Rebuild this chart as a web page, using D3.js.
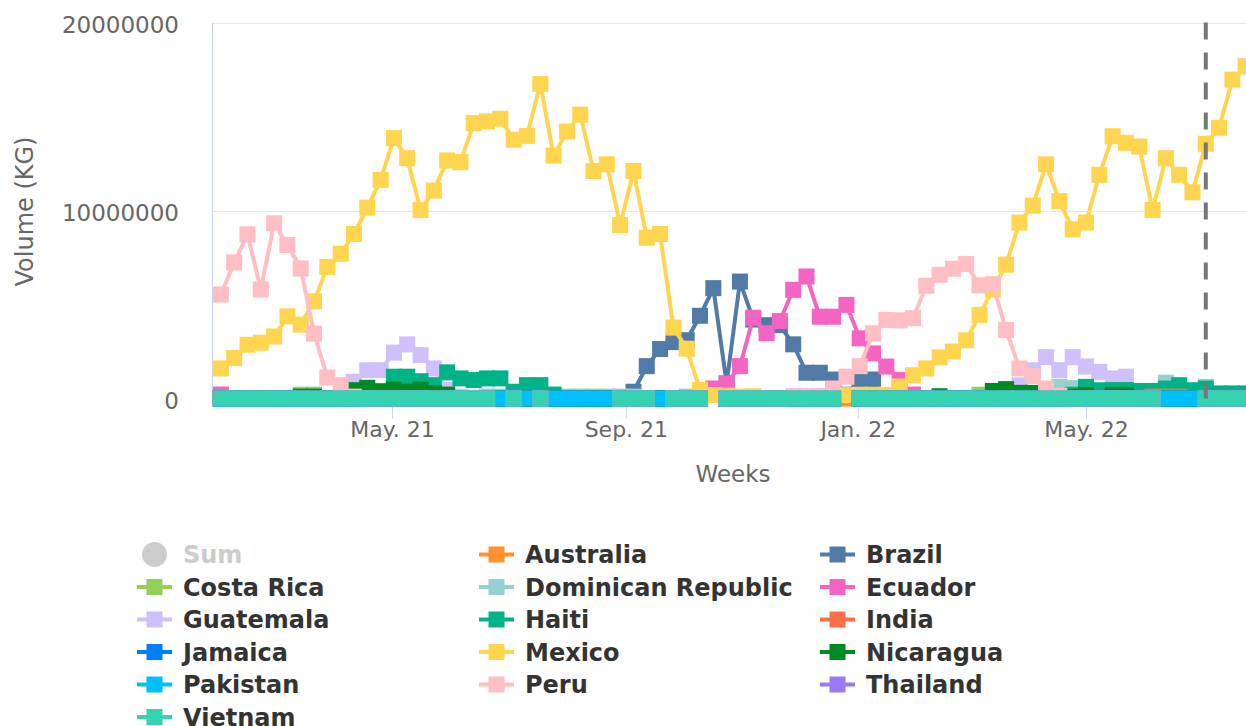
<!DOCTYPE html>
<html><head><meta charset="utf-8">
<script src="https://cdn.jsdelivr.net/npm/d3@7"></script>
<style>html,body{margin:0;padding:0;background:#fff;} svg{display:block;}</style>
</head><body>
<svg id="chart" width="1246" height="726"></svg>
<script>
const _ = null;
// weekly categories (Sundays)
const firstWeek = "2021-01-31", afterLastWeek = "2022-07-25";
const xTickDates = ["2021-05-01","2021-09-01","2022-01-01","2022-05-01"];
const xTickLabels = ["May. 21","Sep. 21","Jan. 22","May. 22"];
const yTicks = [0, 10000000, 20000000];
const currentWeekLine = "2022-07-03";
const UNIT = 1e6; // series values below are in millions of KG

const seriesNames = ["Australia","Brazil","Costa Rica","Dominican Republic","Ecuador","Guatemala","Haiti","India","Jamaica","Mexico","Nicaragua","Pakistan","Peru","Thailand","Vietnam"];
const seriesColors = ["#ff922c","#507aa8","#94ce5a","#96d0d0","#f564c3","#cfc0fc","#00b386","#ff6e4a","#0080ff","#ffd54f","#008a24","#00bfff","#ffbec3","#9a78fa","#35d2b1"];

const australia = [
0,0,0,0,0,0,0,0,0,0,
0,0,0,0,0,0,0,0,0,0,
0,0,0,0,0,0,0,0,0,0,
0,0,0,0,0,0,0,_,0,0,
0,0,0,0,0,0,0,0,0,0,
0,0,0,0,0,0,0,0,0,0,
0,0,0,0,0,0,0,0,0,0,
0,0,0,0,0,0,0,0];
const brazil = [
0,0,0,0,0,0,0,0,0,0,
0,0,0,0,0,0,0,0,0,0,
0,0,0,0,0,0,0,0,0,0,
0,0.36,1.72,2.63,3.0,3.1,4.4,5.87,0.8,6.22,
4.2,3.9,3.9,2.88,1.37,1.37,1.01,0.2,1.01,1.01,
0.1,0,0,0,0,0,0,0,0,0,
0,0,0,0,0,0,0,0,0,0,
0,0,0,0,0,0,0,0];
const costaRica = [
0,0,0,0,0,0,0.2,0.2,0,0,
0,0,0,0,0,0,0,0,0,0,
0,0,0,0,0,0,0,0,0,0,
0,0,0,0,0,0,0,_,0,0,
0,0,0,0,0,0,0,_,0,0,
0,0,0,0,0,0,0,0.2,0,0,
0,0,0,0,0,0,0,0,0,0,
0,0,0,0,0,0,0,0];
const dominicanRepublic = [
0,0,0,0,0,0,0,0,0,0,
0,0,0,0,0,0,0,0,0,0,
0.1,0.1,0,0,0,0,0.1,0.1,0.1,0.1,
0.1,0.1,0,0,0,0.1,0,_,0,0,
0,0,0,0,0,0,0,_,0,0,
0,0,0,0,0,0,0,0,0,0,
0,0,0,0.62,0.55,0,0,0,0,0,
0,0.84,0,0,0.62,0,0,0];
const ecuador = [
0.21,0,0,0,0,0,0,0,0,0,
0,0,0,0,0,0,0,0,0,0,
0,0,0,0,0,0,0,0,0,0,
0,0,0,0,0,0,0,0.53,0.8,1.72,
4.3,3.47,4.12,5.78,6.49,4.35,4.35,4.98,3.2,2.4,
1.7,0.98,0.21,0,0,0,0,0,0,0,
0,0,0,0,0,0,0,0,0,0,
0,0,0,0,0,0,0,0];
const guatemala = [
0,0,0,0,0,0,0,0,0,0,
0.89,1.51,1.51,2.44,2.88,2.31,1.6,0.44,0.1,0,
0,0,0,0,0,0,0,0,0,0,
0,0,0,0,0,0,0,_,0,0,
0,0,0,0,0,0,0,_,0,0,
0,0,0,0,0,0,0,0,0,0,
0.7,1.5,2.2,1.51,2.2,1.7,1.42,1.07,1.16,0.2,
0,0,0,0,0,0,0,0];
const haiti = [
0,0,0,0,0,0,0,0,0,0,
0.1,0.2,0.3,1.16,1.16,0.92,0.71,1.39,1.07,0.98,
1.07,1.07,0.36,0.71,0.71,0.21,0,0,0,0,
0,0,0,0,0,0,0,_,0,0,
0,0,0,0,0,0,0,_,0,0,
0,0,0,0,0,0,0,0,0,0,
0,0,0.1,0.1,0.2,0.62,0.44,0.45,0.45,0.4,
0.4,0.53,0.71,0.44,0.53,0.27,0.27,0.27];
const india = [
0,0,0,0,0,0,0,0,0,0,
0,0,0,0,0,0,0,0,0,0,
0,0,0,0,0,0,0,0,0,0,
0,0,0,0,0,0,0,_,0,0,
0,0,0,0,0,0,0,_,0,0,
0,0,0,0,0,0,0,0,0,0,
0,0,0,0,0,0,0,0,0,0,
0.1,0.1,0.1,0,0,0,0,0];
const jamaica = [
0,0,0,0,0,0,0,0,0,0,
0,0,0,0,0,0,0,0,0,0,
0,0,0,0,0,0,0,0,0,0,
0,0,0,0,0,0,0,_,0,0,
0,0,0,0,0,0,0,_,0,0,
0,0,0,0,0,0,0,0,0,0,
0,0,0,0,0,0,0,0,0,0,
0,0,0,0,0,0,0,0];
const mexico = [
1.6,2.15,2.86,2.97,3.3,4.37,3.93,5.17,7.0,7.7,
8.75,10.15,11.63,13.85,12.78,10.03,11.06,12.66,12.57,14.65,
14.74,14.88,13.76,13.97,16.73,12.92,14.2,15.1,12.1,12.46,
9.23,12.1,8.55,8.75,3.77,2.65,0.45,0.18,0.15,0.1,
0.12,0,0,0,0,0,0,0.18,0.2,0.2,
0.2,0.64,1.24,1.6,2.19,2.5,3.1,4.45,5.8,7.12,
9.36,10.26,12.46,10.5,9.0,9.36,11.9,13.95,13.6,13.4,
10.03,12.78,11.9,10.97,13.55,14.4,16.96,17.67];
const nicaragua = [
0,0,0,0,0,0,0.1,0.1,0,0,
0.44,0.57,0.39,0.48,0.36,0.48,0.27,0.21,0,0,
0,0,0,0,0,0,0,0,0,0,
0,0,0,0,0,0,0,_,0,0,
0,0,0,0,0,0,0,_,0,0,
0,0,0,0,0.12,0,0,0,0.4,0.5,
0.3,0.3,0,0,0.1,0.2,0,0.2,0.2,0,
0,0,0,0,0,0,0,0];
const pakistan = [
0,0,0,0,0,0,0,0,0,0,
0,0,0,0,0,0,0,0,0,0,
0,0,0,0,0,0,0,0,0,0,
0,0,0,0,0,0,0,_,0,0,
0,0,0,0,0,0,0,_,0,0,
0,0,0,0,0,0,0,0,0,0,
0,0,0,0,0,0,0,0,0,0,
0,0,0,0,0,0,0,0];
const peru = [
5.53,7.24,8.73,5.8,9.32,8.16,6.92,3.45,1.12,0.71,
0.1,0,0,0,0,0,0,0,0,0,
0,_,0,_,0,_,_,_,_,_,
0,0,0,_,0,0,0,_,0,0,
0,0,0,0.12,0.12,0.12,0.53,1.16,1.72,3.47,
4.18,4.16,4.27,6.0,6.58,6.9,7.15,6.02,6.08,3.64,
1.6,1.2,0.53,0.15,0,0,0,0,0,0,
0,_,_,_,0,0,0,0];
const thailand = [
0,0,0,0,0,0,0,0,0,0,
0,0,0,0,0,0,0,0,0,0,
0,_,0,_,0,_,_,_,_,_,
0,0,0,_,0,0,0,_,0,0,
0,0,0,0,0,0,0,_,0,0,
0,0,0,0,0,0,0,0,0,0,
0,0,0,0,0,0,0,0,0,0,
0,_,_,_,0,0,0,0];
const vietnam = [
0,0,0,0,0,0,0,0,0,0,
0,0,0,0,0,0,0,0,0,0,
0,_,0,_,0,_,_,_,_,_,
0,0,0,_,0,0,0,_,0,0,
0,0,0,0,0,0,0,_,0,0,
0,0,0,0,0,0,0,0,0,0,
0,0,0,0,0,0,0,0,0,0,
0,_,_,_,0,0,0,0];

const seriesValues = [australia,brazil,costaRica,dominicanRepublic,ecuador,guatemala,haiti,india,jamaica,mexico,nicaragua,pakistan,peru,thailand,vietnam];

// ---------- layout ----------
const plot = {left: 213, right: 1253, top: 22.5, bottom: 398.5};
const parse = d3.utcParse("%Y-%m-%d");
const weeks = d3.utcWeek.range(parse(firstWeek), parse(afterLastWeek));

const x = d3.scaleUtc()
  .domain([parse(xTickDates[0]), parse(xTickDates[3])])
  .range([392, 1086]);
const y = d3.scaleLinear().domain([0, 20000000]).range([plot.bottom, plot.top]);

const svg = d3.select("#chart");
svg.append("rect").attr("width",1246).attr("height",726).attr("fill","#fff");

// gridlines
svg.append("g").selectAll("line").data(yTicks).join("line")
  .attr("x1", plot.left).attr("x2", plot.right)
  .attr("y1", d => Math.round(y(d)) + 0.5).attr("y2", d => Math.round(y(d)) + 0.5)
  .attr("stroke", "#e6e6e6").attr("stroke-width", 1);

// y axis
const yAxis = svg.append("g").attr("transform", `translate(${plot.left - 0.5},0)`)
  .call(d3.axisLeft(y).tickValues(yTicks).tickFormat(d3.format("d")).tickSize(0).tickPadding(33.5));
yAxis.select(".domain").remove();
yAxis.append("line").attr("x1",0).attr("x2",0).attr("y1",plot.top).attr("y2",plot.bottom)
  .attr("stroke","#ccd6eb").attr("stroke-width",1);
yAxis.selectAll("text").attr("dy", "10px")
  .attr("font-family","DejaVu Sans").attr("font-size","23px").attr("fill","#666");

svg.append("text")
  .attr("transform", "translate(33,211.5) rotate(-90)")
  .attr("text-anchor","middle")
  .attr("font-family","DejaVu Sans").attr("font-size","24px").attr("fill","#666")
  .text("Volume (KG)");

// x axis
const tickMap = new Map(xTickDates.map((d,i)=>[+parse(d), xTickLabels[i]]));
const xAxis = svg.append("g").attr("transform", "translate(0,407)")
  .call(d3.axisBottom(x).tickValues(xTickDates.map(parse)).tickFormat(d => tickMap.get(+d)).tickSize(12).tickPadding(17.5));
xAxis.select(".domain").remove();
xAxis.selectAll(".tick line").attr("stroke","#ccd6eb");
xAxis.selectAll("text").attr("dy","0")
  .attr("font-family","DejaVu Sans").attr("font-size","22px").attr("fill","#666");

svg.append("text").attr("x", (plot.left + plot.right)/2).attr("y", 482)
  .attr("text-anchor","middle")
  .attr("font-family","DejaVu Sans").attr("font-size","23px").attr("fill","#666")
  .text("Weeks");

// series
const line = d3.line().defined(d => d.v != null).x(d => x(d.date)).y(d => y(d.v * UNIT));
const M = 16;
seriesNames.forEach((name, i) => {
  const pts = weeks.map((date, k) => ({date, v: seriesValues[i][k] === undefined ? null : seriesValues[i][k]}));
  const g = svg.append("g").attr("class", "series");
  g.append("path").datum(pts).attr("d", line)
    .attr("fill","none").attr("stroke", seriesColors[i]).attr("stroke-width", 4)
    .attr("stroke-linejoin","round").attr("stroke-linecap","round");
  g.selectAll("rect").data(pts.filter(d => d.v != null)).join("rect")
    .attr("x", d => x(d.date) - M/2).attr("y", d => y(d.v * UNIT) - M/2)
    .attr("width", M).attr("height", M).attr("fill", seriesColors[i]);
});

// current week plot line
svg.append("line")
  .attr("x1", x(parse(currentWeekLine))).attr("x2", x(parse(currentWeekLine)))
  .attr("y1", plot.top).attr("y2", plot.bottom)
  .attr("stroke","#777").attr("stroke-width",4).attr("stroke-dasharray","17,13");

// legend
const legendNames = ["Sum"].concat(seriesNames);
const legendColors = ["#cccccc"].concat(seriesColors);
const colX = [154.5, 496.5, 837.5];
const rowY0 = 554.5, rowH = 32.5;
const lg = svg.append("g").attr("class","legend");
legendNames.forEach((name, i) => {
  const cx = colX[i % 3], cy = rowY0 + Math.floor(i / 3) * rowH;
  const item = lg.append("g");
  if (name === "Sum") {
    item.append("circle").attr("cx", cx).attr("cy", cy).attr("r", 12.5).attr("fill", "#cccccc");
  } else {
    item.append("line").attr("x1", cx - 17.5).attr("x2", cx + 17.5).attr("y1", cy).attr("y2", cy)
      .attr("stroke", legendColors[i]).attr("stroke-width", 4);
    item.append("rect").attr("x", cx - 8).attr("y", cy - 8).attr("width", 16).attr("height", 16)
      .attr("fill", legendColors[i]);
  }
  item.append("text").attr("x", cx + 28.5).attr("y", cy + 8.5)
    .attr("font-family","DejaVu Sans").attr("font-weight","bold").attr("font-size","24px")
    .attr("fill", name === "Sum" ? "#cccccc" : "#333333")
    .text(name);
});
</script>
</body></html>
